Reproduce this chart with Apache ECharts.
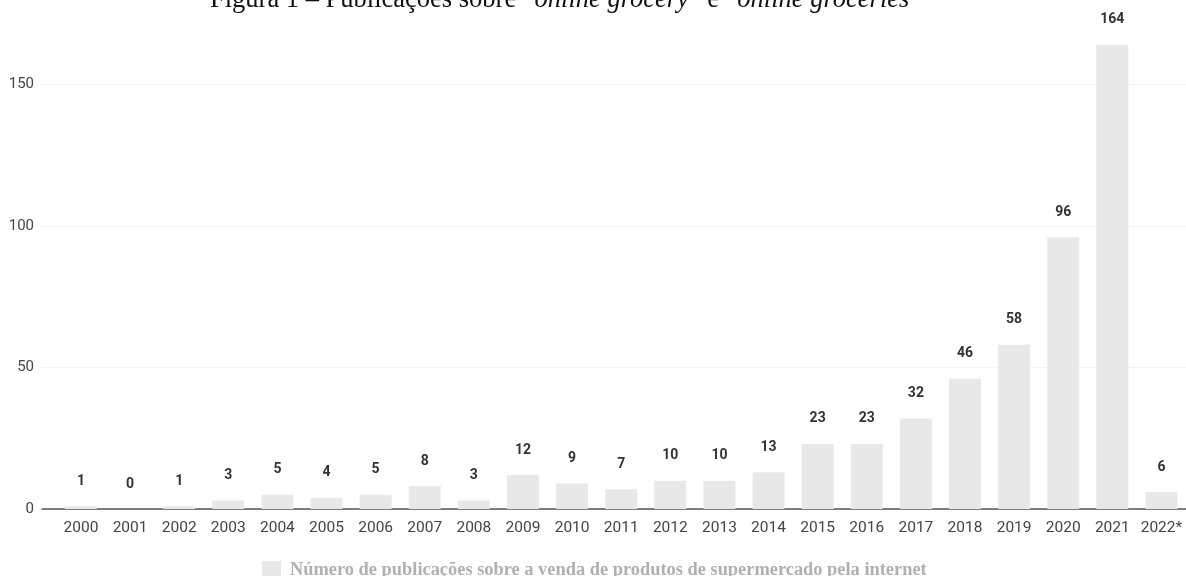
<!DOCTYPE html>
<html>
<head>
<meta charset="utf-8">
<script src="https://cdn.jsdelivr.net/npm/echarts@6/dist/echarts.min.js"></script>
<style>
  html, body { margin: 0; padding: 0; background: #ffffff; }
  #chart { width: 1186px; height: 576px; }
</style>
</head>
<body>
<div id="chart"></div>
<script>
// Publications per year
const years = ['2000', '2001', '2002', '2003', '2004', '2005', '2006', '2007', '2008', '2009', '2010',
  '2011', '2012', '2013', '2014', '2015', '2016', '2017', '2018', '2019', '2020', '2021', '2022*'];
const publications = [1, 0, 1, 3, 5, 4, 5, 8, 3, 12, 9, 7, 10, 10, 13, 23, 23, 32, 46, 58, 96, 164, 6];
const seriesName = 'Número de publicações sobre a venda de produtos de supermercado pela internet';
const yTicks = { min: 0, max: 150, interval: 50 };

const chart = echarts.init(document.getElementById('chart'), null, { renderer: 'canvas' });

// Scale: 2.83 px per unit, baseline at y = 509
const bottom = 67;
const pxPerUnit = 2.83;
const barMax = 175;

chart.setOption({
  backgroundColor: '#ffffff',
  animation: false,
  title: {
    left: 210,
    top: -13,
    padding: 0,
    text: '{n|Figura 1 – Publicações sobre “}{i|online grocery}{n|” e “}{i|online groceries}{n|”}',
    textStyle: {
      fontWeight: 'normal',
      rich: {
        n: { fontFamily: 'Liberation Serif', fontSize: 26.5, color: '#111', fontStyle: 'normal', fontWeight: 'normal' },
        i: { fontFamily: 'Liberation Serif', fontSize: 26.5, color: '#111', fontStyle: 'italic', fontWeight: 'normal' }
      }
    }
  },
  legend: {
    left: 257,
    top: 556,
    itemWidth: 19,
    itemHeight: 19,
    itemGap: 10,
    icon: 'rect',
    data: [seriesName],
    textStyle: {
      fontFamily: 'Liberation Serif',
      fontWeight: 'bold',
      fontSize: 18.4,
      color: '#b0b0b0',
      padding: [0, 0, 0, 4]
    }
  },
  grid: [
    // value grid: gridlines, y labels and baseline
    { left: 42, right: 0, top: 509 - yTicks.max * pxPerUnit, bottom: bottom },
    // bar grid
    { left: 56.4, right: -3, top: 509 - barMax * pxPerUnit, bottom: bottom }
  ],
  xAxis: [
    {
      gridIndex: 0, type: 'value', min: 0, max: 1,
      axisLine: { show: true, lineStyle: { color: '#555', width: 1.5 } },
      axisTick: { show: false }, axisLabel: { show: false }, splitLine: { show: false }
    },
    {
      gridIndex: 1, type: 'category', data: years,
      axisLine: { show: false }, axisTick: { show: false },
      axisLabel: { interval: 0, hideOverlap: false, fontFamily: 'Roboto', fontSize: 15.5, color: '#444', margin: 11 }
    }
  ],
  yAxis: [
    {
      gridIndex: 0, type: 'value', min: yTicks.min, max: yTicks.max, interval: yTicks.interval,
      axisLine: { show: false }, axisTick: { show: false },
      axisLabel: { fontFamily: 'Roboto', fontSize: 15, color: '#444', margin: 8 },
      splitLine: { lineStyle: { color: '#f2f2f2', width: 1 } }
    },
    {
      gridIndex: 1, type: 'value', min: 0, max: barMax, show: false,
      splitLine: { show: false }
    }
  ],
  series: [
    {
      name: seriesName,
      type: 'bar',
      xAxisIndex: 1,
      yAxisIndex: 1,
      data: publications,
      barCategoryGap: '35%',
      itemStyle: { color: '#e8e8e8' },
      label: {
        show: true,
        position: 'top',
        distance: 18,
        fontFamily: 'Roboto',
        fontWeight: 'bold',
        fontSize: 14,
        color: '#333'
      }
    }
  ]
});
</script>
</body>
</html>
